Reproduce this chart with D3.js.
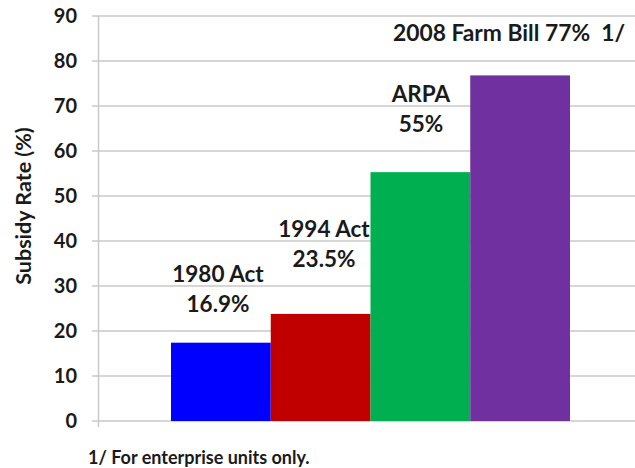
<!DOCTYPE html>
<html>
<head>
<meta charset="utf-8">
<script src="https://cdn.jsdelivr.net/npm/d3@7"></script>
<style>
  body { margin: 0; background: #fff; }
  text { font-family: Lato, "Open Sans", sans-serif; font-weight: bold; fill: #1a1a1a; }
</style>
</head>
<body>
<div id="container"></div>
<script>
var acts = ["1980 Act", "1994 Act", "ARPA", "2008 Farm Bill"];
var rates = [17.4, 23.8, 55.3, 76.8];
var rateLabels = ["16.9%", "23.5%", "55%", "77%"];
var barColors = ["#0000ff", "#c00000", "#00b050", "#7030a0"];
var yTicks = [0, 10, 20, 30, 40, 50, 60, 70, 80, 90];

var width = 635;
var height = 468;

var svg = d3.select("#container")
    .append("svg")
    .attr("width", width)
    .attr("height", height);

var x = d3.scaleBand()
    .domain(acts)
    .range([98, 643])
    .paddingInner(0)
    .paddingOuter(0.732);

var y = d3.scaleLinear()
    .domain([0, 90])
    .range([421, 16]);

// gridlines
svg.append("g")
    .selectAll("line")
    .data(yTicks)
    .enter()
    .append("line")
    .attr("x1", 92)
    .attr("x2", width)
    .attr("y1", d => y(d))
    .attr("y2", d => y(d))
    .attr("stroke", "#c9c9c9")
    .attr("stroke-width", 1.5);

// y axis line
svg.append("line")
    .attr("x1", 98.5).attr("x2", 98.5)
    .attr("y1", y(90)).attr("y2", y(0) + 6)
    .attr("stroke", "#c9c9c9")
    .attr("stroke-width", 1.5);

// tick labels
svg.append("g")
    .selectAll("text")
    .data(yTicks)
    .enter()
    .append("text")
    .attr("x", 77)
    .attr("y", d => y(d) + 7)
    .attr("text-anchor", "end")
    .style("font-size", "20px")
    .text(d => d);

// bars
svg.append("g")
    .selectAll("rect")
    .data(rates)
    .enter()
    .append("rect")
    .attr("x", (d, i) => x(acts[i]))
    .attr("y", d => y(d))
    .attr("width", x.bandwidth())
    .attr("height", d => y(0) - y(d))
    .attr("fill", (d, i) => barColors[i]);

// y axis title
svg.append("text")
    .attr("transform", "translate(31,206) rotate(-90)")
    .attr("text-anchor", "middle")
    .style("font-size", "21.5px")
    .style("font-weight", "bold")
    .text("Subsidy Rate (%)");

// bar labels, two lines each except the last
var labelPos = [
    { cx: 218, y1: 282, y2: 312 },
    { cx: 324, y1: 237, y2: 267 },
    { cx: 421, y1: 102, y2: 132 }
];
labelPos.forEach(function (p, i) {
    svg.append("text")
        .attr("x", p.cx).attr("y", p.y1)
        .attr("text-anchor", "middle")
        .style("font-size", "22.5px")
        .text(acts[i]);
    svg.append("text")
        .attr("x", p.cx).attr("y", p.y2)
        .attr("text-anchor", "middle")
        .style("font-size", "22.5px")
        .text(rateLabels[i]);
});

svg.append("text")
    .attr("x", 393).attr("y", 41)
    .style("font-size", "22.8px")
    .attr("xml:space", "preserve")
    .text(acts[3] + " " + rateLabels[3] + "  1/");

// footnote
svg.append("text")
    .attr("x", 88).attr("y", 464)
    .style("font-size", "18px")
    .text("1/ For enterprise units only.");
</script>
</body>
</html>
